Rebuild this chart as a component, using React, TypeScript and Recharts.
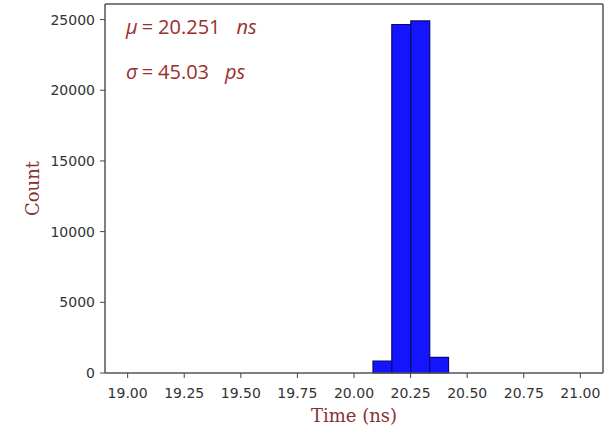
import React from "react";
import { ComposedChart, Line, ReferenceArea, ReferenceLine, XAxis, YAxis } from "recharts";

// histogram bins (ns) and counts
const binStarts = [20.084, 20.167, 20.251, 20.334];
const binWidth = 0.0836;
const counts = [850, 24650, 24900, 1100];

const xTicks = [19, 19.25, 19.5, 19.75, 20, 20.25, 20.5, 20.75, 21];
const yTicks = [0, 5000, 10000, 15000, 20000, 25000];

const xDomain: [number, number] = [18.9, 21.1];
const yDomain: [number, number] = [0, 26100];

const annotations = [
  { sym: "μ", value: "20.251", unit: "ns" },
  { sym: "σ", value: "45.03", unit: "ps" }
];

const data = binStarts.map((start, i) => ({
  mid: start + binWidth / 2,
  count: counts[i]
}));

const tickStyle = { fontSize: 14, fill: "#333", fontFamily: "DejaVu Sans" };
const labelStyle = { fontSize: 18, fill: "#8a3030", fontFamily: "DejaVu Serif" };
const frame = { stroke: "#555", strokeWidth: 1.5 };

export default function App() {
  return (
    <div
      style={{
        position: "absolute",
        left: 0,
        top: 0,
        width: 608,
        height: 431,
        overflow: "hidden",
        background: "#fff"
      }}
    >
      <ComposedChart
        width={608}
        height={431}
        data={data}
        margin={{ top: 4, right: 5, left: 0, bottom: 0 }}
      >
        <XAxis
          dataKey="mid"
          type="number"
          domain={xDomain}
          ticks={xTicks}
          allowDataOverflow
          tickFormatter={(v: number) => v.toFixed(2)}
          tick={tickStyle}
          tickLine={{ stroke: "#444" }}
          axisLine={frame}
          tickSize={5}
          tickMargin={10}
          height={58}
          label={{ value: "Time (ns)", position: "insideBottom", offset: 9, style: labelStyle }}
        />
        <YAxis
          type="number"
          domain={yDomain}
          ticks={yTicks}
          allowDataOverflow
          tick={tickStyle}
          tickLine={{ stroke: "#444" }}
          axisLine={frame}
          tickSize={5}
          tickMargin={5}
          width={105}
          label={{ value: "Count", angle: -90, position: "center", dx: -20, style: labelStyle }}
        />
        {binStarts.map((start, i) => (
          <ReferenceArea
            key={start}
            x1={start}
            x2={start + binWidth}
            y1={0}
            y2={counts[i]}
            fill="#1414ff"
            fillOpacity={1}
            stroke="#0a0a6e"
            strokeWidth={1.2}
            ifOverflow="visible"
          />
        ))}
        {/* top and right edges of the axes box */}
        <ReferenceLine y={yDomain[1]} stroke="#555" strokeWidth={1.5} ifOverflow="visible" />
        <ReferenceLine x={xDomain[1]} stroke="#555" strokeWidth={1.5} ifOverflow="visible" />
        <Line dataKey="count" stroke="none" dot={false} activeDot={false} isAnimationActive={false} />
      </ComposedChart>
      {annotations.map((a, i) => (
        <div
          key={a.sym}
          style={{
            position: "absolute",
            left: 126,
            top: 13 + i * 45,
            fontFamily: "Open Sans",
            fontSize: 20,
            color: "#9b2d2d",
            whiteSpace: "pre",
            lineHeight: "27px"
          }}
        >
          <i>{a.sym}</i>
          <span style={{ margin: "0 5px 0 4px" }}>=</span>
          {a.value}
          <i style={{ marginLeft: 16 }}>{a.unit}</i>
        </div>
      ))}
    </div>
  );
}
